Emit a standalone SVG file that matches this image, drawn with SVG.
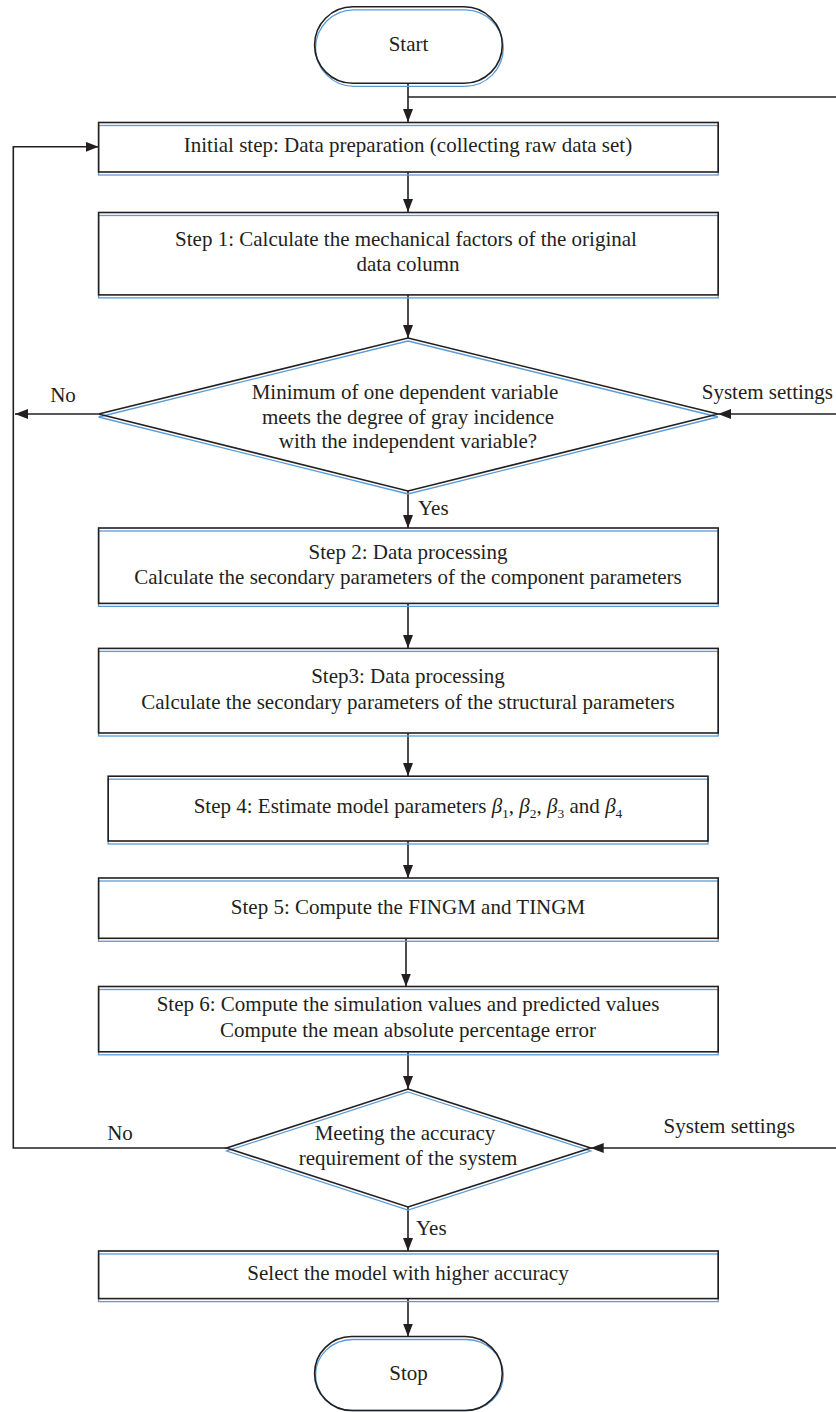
<svg xmlns="http://www.w3.org/2000/svg" width="836" height="1412" viewBox="0 0 836 1412">
<defs>
<style>
.fill{fill:#ffffff;stroke:none}
.blue{fill:none;stroke:#5b9bd5;stroke-width:1.3}
.edge{fill:none;stroke:#231f20;stroke-width:1.6}
.t{font-family:"Liberation Serif","Times New Roman",serif;font-size:21px;fill:#231f20;text-anchor:middle}
.ts{font-family:"Liberation Serif","Times New Roman",serif;font-size:21px;fill:#231f20;text-anchor:start}
.te{font-family:"Liberation Serif","Times New Roman",serif;font-size:21px;fill:#231f20;text-anchor:end}
.c{fill:none;stroke:#231f20;stroke-width:1.6}
</style>
<marker id="arr" markerUnits="userSpaceOnUse" markerWidth="14" markerHeight="12" refX="13" refY="5" orient="auto">
<path d="M0,0 L13,5 L0,10 z" fill="#231f20"/>
</marker>
</defs>
<rect width="836" height="1412" fill="#ffffff"/>

<g id="connectors">
<line class="c" x1="408" y1="83" x2="408" y2="122" marker-end="url(#arr)"/>
<line class="c" x1="408" y1="97" x2="836" y2="97"/>
<line class="c" x1="408" y1="172" x2="408" y2="212" marker-end="url(#arr)"/>
<line class="c" x1="408" y1="295" x2="408" y2="338" marker-end="url(#arr)"/>
<line class="c" x1="98.6" y1="414" x2="15" y2="414" marker-end="url(#arr)"/>
<line class="c" x1="836" y1="414" x2="718" y2="414" marker-end="url(#arr)"/>
<line class="c" x1="408" y1="491" x2="408" y2="528" marker-end="url(#arr)"/>
<line class="c" x1="408" y1="603" x2="408" y2="648" marker-end="url(#arr)"/>
<line class="c" x1="408" y1="733" x2="408" y2="776" marker-end="url(#arr)"/>
<line class="c" x1="408" y1="841" x2="408" y2="878" marker-end="url(#arr)"/>
<line class="c" x1="406" y1="938" x2="406" y2="986.5" marker-end="url(#arr)"/>
<line class="c" x1="408" y1="1052" x2="408" y2="1089" marker-end="url(#arr)"/>
<polyline class="c" points="226.6,1148 13.3,1148 13.3,146.8 98.6,146.8" marker-end="url(#arr)"/>
<line class="c" x1="836" y1="1148" x2="590.7" y2="1148" marker-end="url(#arr)"/>
<line class="c" x1="408" y1="1207" x2="408" y2="1251" marker-end="url(#arr)"/>
<line class="c" x1="408" y1="1299" x2="408" y2="1336.5" marker-end="url(#arr)"/>
<text class="t" x="63" y="402">No</text>
<text class="te" x="833" y="398.5">System settings</text>
<text class="ts" x="418" y="514.5">Yes</text>
<text class="t" x="120" y="1139.5">No</text>
<text class="ts" x="663.6" y="1133">System settings</text>
<text class="ts" x="416" y="1235">Yes</text>
</g>

<g id="start">
<rect class="fill" x="314.6" y="6.8" width="187.7" height="76.5" rx="38.25"/>
<rect class="blue" x="315.6" y="9.8" width="187.7" height="76.5" rx="38.25"/>
<rect class="edge" x="314.6" y="6.8" width="187.7" height="76.5" rx="38.25"/>
<text class="t" x="408.5" y="51">Start</text>
</g>

<g id="initial">
<rect class="fill" x="98.6" y="122.5" width="619.6" height="49.5"/>
<rect class="blue" x="98.6" y="125.5" width="619.6" height="49.5"/>
<rect class="edge" x="98.6" y="122.5" width="619.6" height="49.5"/>
<text class="t" x="408" y="152">Initial step: Data preparation (collecting raw data set)</text>
</g>

<g id="step1">
<rect class="fill" x="98.6" y="212.5" width="619.6" height="82.4"/>
<rect class="blue" x="98.6" y="215.5" width="619.6" height="82.4"/>
<rect class="edge" x="98.6" y="212.5" width="619.6" height="82.4"/>
<text class="t" x="406" y="245.5">Step 1: Calculate the mechanical factors of the original</text>
<text class="t" x="408" y="270.5">data column</text>
</g>

<g id="decision1">
<polygon class="fill" points="408,338 718,414 408,491 98.6,414"/>
<polygon class="blue" points="408,341 718,417 408,494 98.6,417"/>
<polygon class="edge" points="408,338 718,414 408,491 98.6,414"/>
<text class="t" x="405" y="398.5">Minimum of one dependent variable</text>
<text class="t" x="408" y="423.5">meets the degree of gray incidence</text>
<text class="t" x="408" y="448">with the independent variable?</text>
</g>

<g id="step2">
<rect class="fill" x="98.6" y="528" width="619.6" height="75.4"/>
<rect class="blue" x="98.6" y="531" width="619.6" height="75.4"/>
<rect class="edge" x="98.6" y="528" width="619.6" height="75.4"/>
<text class="t" x="408" y="558.5">Step 2: Data processing</text>
<text class="t" x="408" y="583.5">Calculate the secondary parameters of the component parameters</text>
</g>

<g id="step3">
<rect class="fill" x="98.6" y="648.4" width="619.6" height="84.6"/>
<rect class="blue" x="98.6" y="651.4" width="619.6" height="84.6"/>
<rect class="edge" x="98.6" y="648.4" width="619.6" height="84.6"/>
<text class="t" x="408" y="683">Step3: Data processing</text>
<text class="t" x="408" y="709">Calculate the secondary parameters of the structural parameters</text>
</g>

<g id="step4">
<rect class="fill" x="108.2" y="776.2" width="599.8" height="64.8"/>
<rect class="blue" x="108.2" y="779.2" width="599.8" height="64.8"/>
<rect class="edge" x="108.2" y="776.2" width="599.8" height="64.8"/>
<text class="t" x="408" y="812.5">Step 4: Estimate model parameters <tspan font-style="italic">β</tspan><tspan font-size="13.5" dy="5">1</tspan><tspan dy="-5">, </tspan><tspan font-style="italic">β</tspan><tspan font-size="13.5" dy="5">2</tspan><tspan dy="-5">, </tspan><tspan font-style="italic">β</tspan><tspan font-size="13.5" dy="5">3</tspan><tspan dy="-5"> and </tspan><tspan font-style="italic">β</tspan><tspan font-size="13.5" dy="5">4</tspan></text>
</g>

<g id="step5">
<rect class="fill" x="98.6" y="878" width="619.6" height="60.3"/>
<rect class="blue" x="98.6" y="881" width="619.6" height="60.3"/>
<rect class="edge" x="98.6" y="878" width="619.6" height="60.3"/>
<text class="t" x="408" y="913.5">Step 5: Compute the FINGM and TINGM</text>
</g>

<g id="step6">
<rect class="fill" x="98.6" y="986.5" width="619.6" height="65.3"/>
<rect class="blue" x="98.6" y="989.5" width="619.6" height="65.3"/>
<rect class="edge" x="98.6" y="986.5" width="619.6" height="65.3"/>
<text class="t" x="408" y="1011">Step 6: Compute the simulation values and predicted values</text>
<text class="t" x="408" y="1036.5">Compute the mean absolute percentage error</text>
</g>

<g id="decision2">
<polygon class="fill" points="408,1089 590.7,1148 408,1207 226.6,1148"/>
<polygon class="blue" points="408,1092 590.7,1151 408,1210 226.6,1151"/>
<polygon class="edge" points="408,1089 590.7,1148 408,1207 226.6,1148"/>
<text class="t" x="405" y="1140">Meeting the accuracy</text>
<text class="t" x="408" y="1164.5">requirement of the system</text>
</g>

<g id="select">
<rect class="fill" x="98.6" y="1251" width="619.6" height="47.6"/>
<rect class="blue" x="98.6" y="1254" width="619.6" height="47.6"/>
<rect class="edge" x="98.6" y="1251" width="619.6" height="47.6"/>
<text class="t" x="408" y="1279.5">Select the model with higher accuracy</text>
</g>

<g id="stop">
<rect class="fill" x="314.6" y="1336.5" width="187.7" height="74" rx="37"/>
<rect class="blue" x="315.6" y="1339.5" width="187.7" height="71" rx="37"/>
<rect class="edge" x="314.6" y="1336.5" width="187.7" height="74" rx="37"/>
<text class="t" x="408.5" y="1379.5">Stop</text>
</g>
</svg>
